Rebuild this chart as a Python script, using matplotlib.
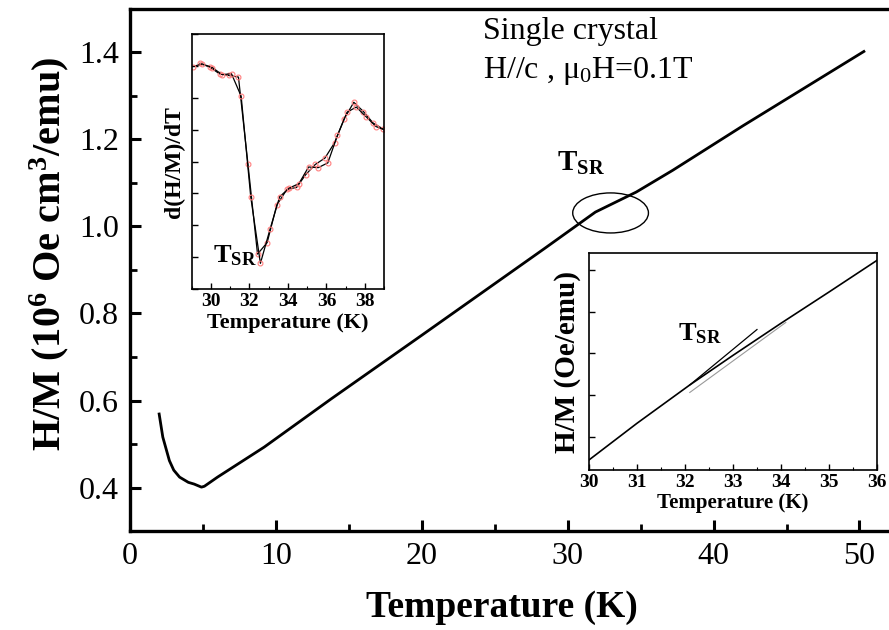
import numpy as np
import matplotlib.pyplot as plt
from matplotlib.patches import Ellipse
from matplotlib.ticker import MultipleLocator, NullFormatter

plt.rcParams['font.family'] = ['Liberation Serif', 'DejaVu Serif']
plt.rcParams['mathtext.fontset'] = 'custom'
plt.rcParams['mathtext.rm'] = 'Liberation Serif'
plt.rcParams['mathtext.it'] = 'Liberation Serif:italic'
plt.rcParams['mathtext.bf'] = 'Liberation Serif:bold'

# main curve H/M vs T
temp = [2.0, 2.25, 2.7, 3.0, 3.4, 4.0, 4.4, 4.9, 5.1, 6.0, 9.2, 13.8, 20.0,
        28.4, 31.9, 34.7, 37.2, 42.0, 50.3]
hm = [0.569, 0.516, 0.462, 0.440, 0.424, 0.412, 0.408, 0.401, 0.403, 0.424,
      0.493, 0.604, 0.750, 0.949, 1.033, 1.079, 1.129, 1.231, 1.402]

# inset 1: derivative, two sweeps
t_a = [29.43, 29.95, 30.45, 30.93, 31.43, 31.92, 32.42, 32.92, 33.42, 33.95,
       34.45, 34.92, 35.42, 35.92, 36.42, 36.92, 37.42, 37.92, 38.42, 38.92]
d_a = [7.08, 6.96, 6.75, 6.70, 6.65, 3.94, 1.10, 1.46, 2.64, 3.13,
       3.19, 3.59, 3.91, 4.11, 4.59, 5.34, 5.86, 5.57, 5.21, 5.03]
t_b = [29.05, 29.55, 30.07, 30.57, 31.07, 31.57, 32.07, 32.57, 33.07, 33.57,
       34.07, 34.57, 35.07, 35.57, 36.07, 36.57, 37.07, 37.55, 38.07, 38.57, 39.07]
d_b = [6.98, 7.06, 6.95, 6.73, 6.75, 6.05, 2.88, 0.81, 1.88, 2.90,
       3.17, 3.31, 3.83, 3.81, 3.96, 4.82, 5.55, 5.71, 5.40, 5.10, 4.98]

# inset 2: zoom of H/M near T_SR with tangent lines
t_zoom = [30.0, 31.0, 32.1, 33.0, 34.0, 35.0, 36.0]
hm_zoom = [0.44, 1.32, 2.24, 2.95, 3.72, 4.47, 5.23]
t_tan1 = [32.1, 33.5]
hm_tan1 = [2.24, 3.57]
t_tan2 = [32.1, 34.1]
hm_tan2 = [2.06, 3.74]

fig = plt.figure(figsize=(8.89, 6.3), dpi=100)
ax = fig.add_axes([0.1462, 0.157, 0.86, 0.829])
ax.plot(temp, hm, color='black', lw=2.0, zorder=3)
ax.set_xlim(0, 52.4)
ax.set_ylim(0.3, 1.5)
ax.xaxis.set_major_locator(MultipleLocator(10))
ax.xaxis.set_minor_locator(MultipleLocator(5))
ax.yaxis.set_major_locator(MultipleLocator(0.2))
ax.yaxis.set_minor_locator(MultipleLocator(0.1))
ax.yaxis.set_major_formatter(plt.FormatStrFormatter('%.1f'))
ax.tick_params(which='major', direction='in', length=8, width=2.2, labelsize=23, pad=8)
ax.tick_params(which='minor', direction='in', length=5, width=2.0)
ax.tick_params(top=False, right=False, which='both')
for s in ax.spines.values():
    s.set_linewidth(2.4)
ax.spines['right'].set_visible(False)
ax.set_xlabel('Temperature (K)', fontsize=27, fontweight='bold')
ax.set_ylabel(r'H/M (10$^{\mathbf{6}}$ Oe cm$^{\mathbf{3}}$/emu)', fontsize=29,
              fontweight='bold')
ax.xaxis.set_label_coords(0.487, -0.112)
ax.yaxis.set_label_coords(-0.077, 0.53)

ax.add_patch(Ellipse((32.94, 1.031), 5.19, 0.092, fill=False, lw=1.0, ec='black'))
ax.text(29.3, 1.127, r'$\mathbf{T_{SR}}$', fontsize=21, va='baseline')
ax.text(24.2, 1.43, 'Single crystal', fontsize=23, va='baseline')
ax.text(24.2, 1.34, r'H//c , μ$_0$H=0.1T', fontsize=23, va='baseline')

# inset 1
ax1 = fig.add_axes([0.2156, 0.541, 0.2166, 0.405])
ax1.plot(t_a, d_a, color='black', lw=0.9, marker='o', ms=3.5, mfc='none',
         mec='#ff7f7f', mew=0.8)
ax1.plot(t_b, d_b, color='black', lw=0.9, marker='o', ms=3.5, mfc='none',
         mec='#ff7f7f', mew=0.8)
ax1.set_xlim(29, 39)
ax1.set_ylim(0, 8)
ax1.xaxis.set_major_locator(MultipleLocator(2))
ax1.xaxis.set_minor_locator(MultipleLocator(1))
ax1.yaxis.set_major_locator(MultipleLocator(1))
ax1.yaxis.set_major_formatter(NullFormatter())
ax1.tick_params(which='both', direction='in', top=False, right=False)
ax1.tick_params(which='major', length=4, width=1.0, labelsize=14, pad=3)
ax1.tick_params(which='minor', length=2.5, width=0.8)
for lab in ax1.get_xticklabels():
    lab.set_fontweight('bold')
for s in ax1.spines.values():
    s.set_linewidth(1.2)
ax1.set_xlabel('Temperature (K)', fontsize=16, fontweight='bold', labelpad=2)
ax1.set_ylabel('d(H/M)/dT', fontsize=17, fontweight='bold', labelpad=2)
ax1.text(30.1, 0.85, r'$\mathbf{T_{SR}}$', fontsize=19, va='baseline')

# inset 2
ax2 = fig.add_axes([0.6625, 0.254, 0.324, 0.344])
ax2.plot(t_zoom, hm_zoom, color='black', lw=1.2)
ax2.plot(t_tan1, hm_tan1, color='black', lw=0.9)
ax2.plot(t_tan2, hm_tan2, color='#999999', lw=0.8)
ax2.set_xlim(30, 36)
ax2.set_ylim(0.2, 5.4)
ax2.xaxis.set_major_locator(MultipleLocator(1))
ax2.xaxis.set_minor_locator(MultipleLocator(0.5))
ax2.yaxis.set_major_locator(MultipleLocator(1))
ax2.yaxis.set_major_formatter(NullFormatter())
ax2.tick_params(which='both', direction='in', top=False, right=False)
ax2.tick_params(which='major', length=4, width=1.0, labelsize=14, pad=3)
ax2.tick_params(which='minor', length=2.5, width=0.8)
for lab in ax2.get_xticklabels():
    lab.set_fontweight('bold')
for s in ax2.spines.values():
    s.set_linewidth(1.2)
ax2.set_xlabel('Temperature (K)', fontsize=15, fontweight='bold', labelpad=1)
ax2.set_ylabel('H/M (Oe/emu)', fontsize=21, fontweight='bold', labelpad=3)
ax2.text(31.86, 3.31, r'$\mathbf{T_{SR}}$', fontsize=19, va='baseline')

fig.savefig('out.png', dpi=100)
